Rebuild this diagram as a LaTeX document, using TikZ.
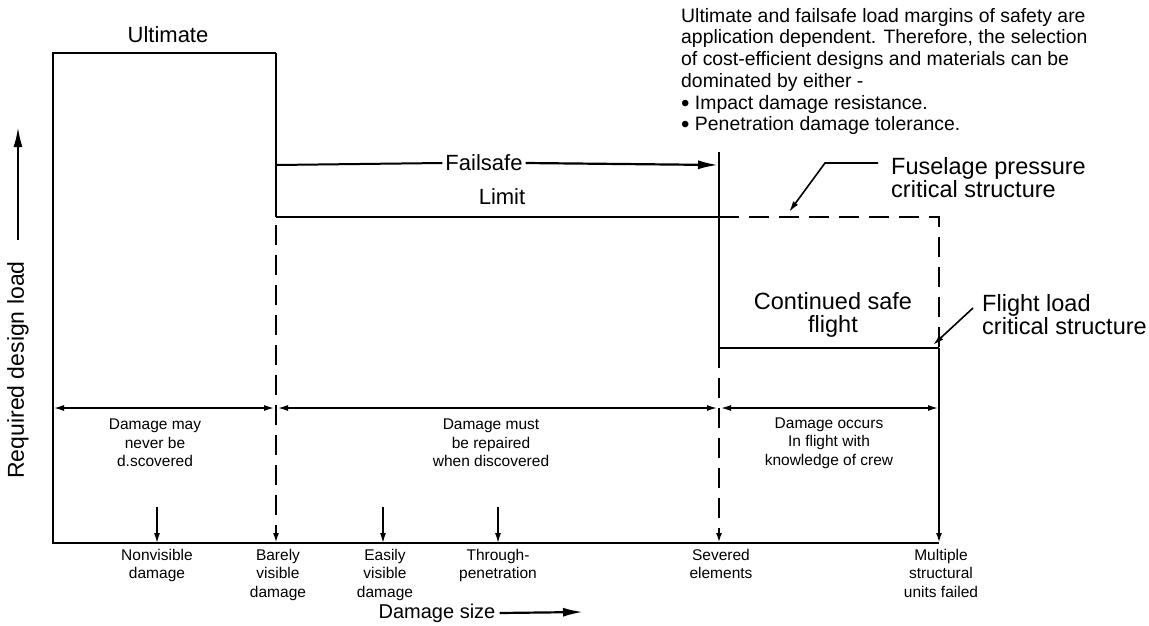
\documentclass[tikz,border=0pt]{standalone}
\usepackage{fontspec}
\setmainfont{Liberation Sans}
\usetikzlibrary{arrows.meta}
\tikzset{
  big/.style={font=\fontsize{22}{23.5}\selectfont, inner sep=0pt},
  bigger/.style={font=\fontsize{23.5}{23.5}\selectfont, inner sep=0pt},
  small/.style={font=\fontsize{15.5}{18.5}\selectfont, align=center, inner sep=0pt},
  body/.style={font=\fontsize{19.4}{21.7}\selectfont, align=left, inner sep=0pt},
  mainline/.style={line width=2pt},
  dashline/.style={line width=2pt, dash pattern=on 20pt off 10pt},
  dimline/.style={line width=1.4pt, {Latex[length=10pt,width=6pt]}-{Latex[length=10pt,width=6pt]}},
  downarrow/.style={line width=1.4pt, -{Latex[length=10pt,width=6pt]}},
  leader/.style={line width=1.6pt, -{Latex[length=11pt,width=6pt]}},
  bigarrow/.style={line width=2.2pt, -{Latex[length=20pt,width=9pt]}},
  axisarrow/.style={line width=2.2pt, -{Latex[length=20pt,width=9pt]}},
}
\newcommand{\bul}{\raisebox{-2pt}{\fontsize{24}{10}\selectfont\textbullet}}
\begin{document}
\begin{tikzpicture}[x=1pt,y=-1pt]
\useasboundingbox (0,0) rectangle (1149,625);
% key coordinates
\coordinate (TL) at (53,53);
\coordinate (O) at (53,543);
\coordinate (UR) at (276,53);
\coordinate (BL) at (276,217);
\coordinate (BB) at (276,543);
\coordinate (FS) at (276,165);
\coordinate (SVt) at (719,152);
\coordinate (SVm) at (719,348);
\coordinate (SVb) at (719,543);
\coordinate (SVl) at (719,217);
\coordinate (MUt) at (939,217);
\coordinate (MUm) at (939,348);
\coordinate (MUb) at (939,543);
\coordinate (FSend) at (718,165);

% axes and ultimate box
\draw[mainline] (UR) -- (TL) -- (O) -- (MUb);
\draw[mainline] (UR) -- (BL);
% limit line
\draw[mainline] (BL) -- (SVl);
\draw[dashline] (SVl) -- (MUt) -- (MUm);
% failsafe
\node[big] (fs) at (484,163) {Failsafe};
\draw[mainline] (FS) -- ([xshift=-3pt]fs.west);
\draw[bigarrow] ([xshift=3pt]fs.east) -- (FSend);
\node[big] (lim) at (502,197) {Limit};
% severed vertical
\draw[mainline] (SVt) -- (SVm);
\draw[mainline] (SVm) -- (MUm);
\draw[dashline, -{Latex[length=10pt,width=6pt]}] (SVm) -- (SVb);
% barely dashed vertical
\draw[dashline, -{Latex[length=10pt,width=6pt]}] ([yshift=-8pt]BL) -- (BB);
% multiple solid vertical
\draw[mainline, -{Latex[length=10pt,width=6pt]}] (MUm) -- (MUb);

% dimension lines
\coordinate (d1) at (54,408);
\coordinate (d2) at (274,408);
\coordinate (d3) at (278,408);
\coordinate (d4) at (717,408);
\coordinate (d5) at (721,408);
\coordinate (d6) at (938,408);
\draw[dimline] (d1) -- (d2);
\draw[dimline] (d3) -- (d4);
\draw[dimline] (d5) -- (d6);

\node[small] (z1) at (155,443) {Damage may\\never be\\d.scovered};
\node[small] (z2) at (491,443) {Damage must\\be repaired\\when discovered};
\node[small] (z3) at (829,443) {Damage occurs\\In flight with\\knowledge of crew};

% damage size arrows
\coordinate (a1) at (157,507); \coordinate (b1) at (157,543);
\coordinate (a3) at (383,507); \coordinate (b3) at (383,543);
\coordinate (a4) at (498,507); \coordinate (b4) at (498,543);
\draw[downarrow] (a1) -- (b1);
\draw[downarrow] (a3) -- (b3);
\draw[downarrow] (a4) -- (b4);

\node[small, anchor=north] (l1) at (157,549) {Nonvisible\\damage};
\node[small, anchor=north] (l2) at (278,549) {Barely\\visible\\damage};
\node[small, anchor=north] (l3) at (385,549) {Easily\\visible\\damage};
\node[small, anchor=north] (l4) at (498,549) {Through-\\penetration};
\node[small, anchor=north] (l5) at (721,549) {Severed\\elements};
\node[small, anchor=north] (l6) at (941,549) {Multiple\\structural\\units failed};

% axis titles
\node[inner sep=0pt, font=\fontsize{20}{22}\selectfont] (ds) at (437,613) {Damage size};
\coordinate (dsend) at (583,612);
\draw[axisarrow] ([xshift=4pt]ds.east) -- (dsend);
\node[inner sep=0pt, font=\fontsize{23}{23}\selectfont, rotate=90] (rdl) at (18,370) {Required design load};
\coordinate (rdlstart) at (18,240);
\coordinate (rdlend) at (18,127);
\draw[axisarrow] (rdlstart) -- (rdlend);

% top labels
\node[big] (ult) at (168,35) {Ultimate};
\node[body, anchor=north west] (note) at (681,8) {Ultimate and failsafe load margins of safety are\\application dependent. Therefore, the selection\\of cost-efficient designs and materials can be\\dominated by either -\\\bul{} Impact damage resistance.\\\bul{} Penetration damage tolerance.};

\node[bigger, align=left, anchor=north west] (fus) at (891,157) {Fuselage pressure\\critical structure};
\coordinate (f1) at (878,163);
\coordinate (f2) at (825,163);
\coordinate (f3) at (789,212);
\draw[leader] (f1) -- (f2) -- (f3);

\node[bigger, align=center] (csf) at (833,315) {Continued safe\\flight};

\node[bigger, align=left, anchor=north west] (flc) at (982,294) {Flight load\\critical structure};
\coordinate (g1) at (973,308);
\coordinate (g2) at (933,345);
\draw[leader] (g1) -- (g2);
\end{tikzpicture}
\end{document}
